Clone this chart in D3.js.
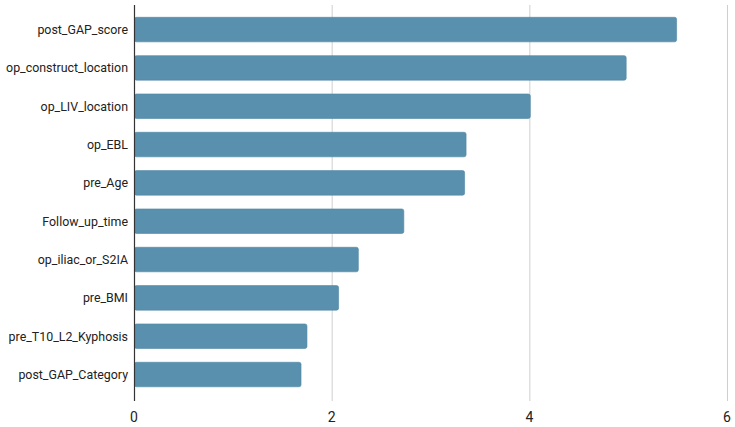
<!DOCTYPE html>
<html>
<head>
<meta charset="utf-8">
<script src="https://cdn.jsdelivr.net/npm/d3@7"></script>
<style>
  body { margin: 0; background: #fff; }
  svg { display: block; font-family: Roboto, sans-serif; }
</style>
</head>
<body>
<svg id="chart" width="735" height="427"></svg>
<script>
const features = [
  'post_GAP_score', 'op_construct_location', 'op_LIV_location', 'op_EBL', 'pre_Age',
  'Follow_up_time', 'op_iliac_or_S2IA', 'pre_BMI', 'pre_T10_L2_Kyphosis', 'post_GAP_Category',
];
const importance = [5.49, 4.98, 4.01, 3.36, 3.345, 2.73, 2.27, 2.07, 1.75, 1.69];
const xTicks = [0, 2, 4, 6];

const margin = { top: 3.5, right: 8, bottom: 26.4, left: 134 };
const width = 735;
const height = 427;

const svg = d3.select('#chart');

const x = d3.scaleLinear()
  .domain([0, 6])
  .range([margin.left, width - margin.right]);

const y = d3.scaleBand()
  .domain(features)
  .range([margin.top, height - margin.bottom])
  .padding(0.36);

const gridTop = 5;
const gridBottom = 401;

// gridlines
svg.append('g')
  .selectAll('line')
  .data(xTicks.filter((d) => d > 0))
  .join('line')
  .attr('x1', (d) => x(d) + 0.5)
  .attr('x2', (d) => x(d) + 0.5)
  .attr('y1', gridTop)
  .attr('y2', gridBottom)
  .attr('stroke', '#cfcfcf')
  .attr('stroke-width', 1);

// bars
svg.append('g')
  .selectAll('rect')
  .data(features)
  .join('rect')
  .attr('x', x(0) + 0.5)
  .attr('y', (d) => y(d))
  .attr('width', (d, i) => x(importance[i]) - x(0) - 0.5)
  .attr('height', y.bandwidth())
  .attr('rx', 2)
  .attr('fill', '#5990ae')
  .attr('stroke', '#4f86a3')
  .attr('stroke-width', 0.6);

// zero axis line
svg.append('line')
  .attr('x1', x(0) + 0.5)
  .attr('x2', x(0) + 0.5)
  .attr('y1', gridTop)
  .attr('y2', gridBottom)
  .attr('stroke', '#333')
  .attr('stroke-width', 1.2);

// category labels
svg.append('g')
  .selectAll('text')
  .data(features)
  .join('text')
  .attr('x', x(0) - 6)
  .attr('y', (d) => y(d) + y.bandwidth() / 2)
  .attr('dy', '0.35em')
  .attr('text-anchor', 'end')
  .attr('font-size', 12.4)
  .attr('fill', '#222')
  .text((d) => d);

// x tick labels
svg.append('g')
  .selectAll('text')
  .data(xTicks)
  .join('text')
  .attr('x', (d) => x(d))
  .attr('y', 417)
  .attr('dy', '0.35em')
  .attr('text-anchor', 'middle')
  .attr('font-size', 14)
  .attr('fill', '#222')
  .text((d) => d);
</script>
</body>
</html>
